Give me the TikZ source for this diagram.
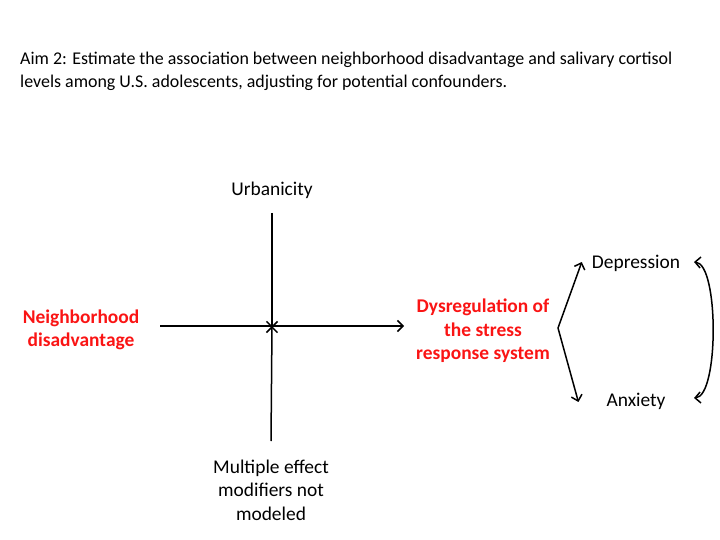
\documentclass[tikz,border=0pt]{standalone}
\usepackage{fontspec}
\setmainfont{Carlito}
\usepackage{xcolor}
\usetikzlibrary{arrows.meta,positioning}
\definecolor{aimred}{RGB}{250,20,20}

\begin{document}
\begin{tikzpicture}[x=1bp,y=-1bp,
  lbl/.style={align=center,font=\fontsize{19.5}{23.5}\selectfont,inner sep=0pt},
  redlbl/.style={lbl,text=aimred,font=\fontsize{19.5}{23.5}\selectfont\bfseries},
  arr/.style={-{Straight Barb[length=5.5bp,width=11bp]},line width=1.5bp}]
  \useasboundingbox (0,0) rectangle (720,540);
  % title
  \node[anchor=north west,align=left,inner sep=0pt,
    font=\fontsize{18}{23}\selectfont] (aim) at (20,52)
    {Aim 2: Estimate the association between neighborhood disadvantage and salivary cortisol\\
     levels among U.S. adolescents, adjusting for potential confounders.};
  % nodes
  \node[lbl] (urb) at (272,190) {Urbanicity};
  \node[redlbl] (nbhd) at (81,330) {Neighborhood\\disadvantage};
  \node[redlbl] (dys) at (483,331) {Dysregulation of\\the stress\\response system};
  \node[lbl] (mult) at (271,490) {Multiple effect\\modifiers not\\modeled};
  \node[lbl] (dep) at (636,263) {Depression};
  \node[lbl] (anx) at (636,401) {Anxiety};
  \coordinate (cross) at (272,327);
  \coordinate (fork) at (558,328);
  \coordinate (loopA) at (694,262);
  \coordinate (loopB) at (694,398);
  % connectors
  \draw[arr] (160,326) -- (404,326);
  \draw[arr] (urb.south |- 0,213) -- ([yshift=-1]cross);
  \draw[arr] (mult.north |- 0,441) -- ([yshift=1]cross);
  \draw[arr] (fork) -- ([xshift=-10,yshift=1]dep.west);
  \draw[arr] (fork) -- ([xshift=-28,yshift=-1]anx.west);
  \draw[{Straight Barb[length=5.5bp,width=11bp]}-{Straight Barb[length=5.5bp,width=11bp]},line width=1.5bp]
    (loopA) .. controls (719,264) and (719,396) .. (loopB);
\end{tikzpicture}
\end{document}
